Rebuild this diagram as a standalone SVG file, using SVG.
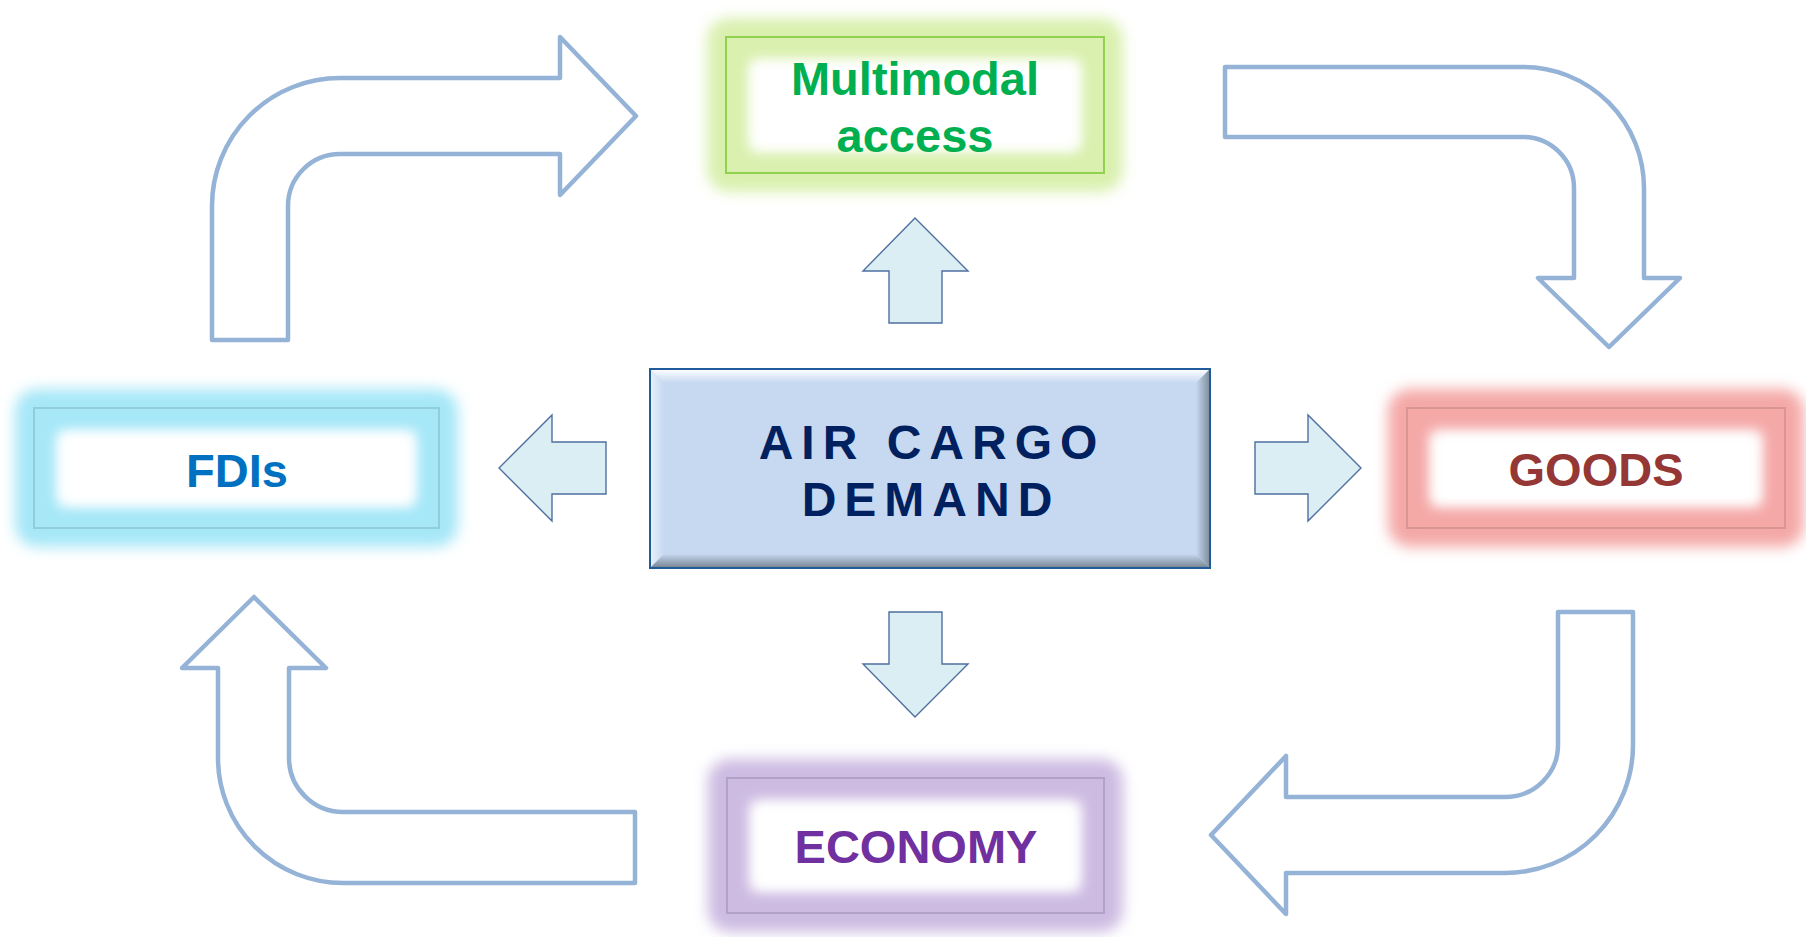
<svg xmlns="http://www.w3.org/2000/svg" width="1806" height="937" viewBox="0 0 1806 937">
  <style>
    .lbl { font-family: "Liberation Sans", Arial, sans-serif; font-weight: bold; font-size: 47px; text-anchor: middle; }
    .big { fill: #FFFFFF; stroke: #95B3D7; stroke-width: 4.5; stroke-linejoin: round; }
    .small { fill: #DBEEF4; stroke: #4F6FA0; stroke-width: 1.4; stroke-linejoin: miter; }
    .glow { fill: none; stroke-width: 44; stroke-linejoin: round; filter: url(#blur); }
    .inner { fill: #FFFFFF; filter: url(#blurIn); }
    .frame { fill: none; stroke-width: 2; }
    .center { font-family: "Liberation Sans", Arial, sans-serif; font-weight: bold; font-size: 48px; letter-spacing: 8px; fill: #002060; text-anchor: middle; }
  </style>
  <defs>
    <filter id="blur" x="-20%" y="-40%" width="140%" height="180%">
      <feGaussianBlur stdDeviation="7"/>
    </filter>
    <filter id="blurIn" x="-20%" y="-40%" width="140%" height="180%">
      <feGaussianBlur stdDeviation="6.5"/>
    </filter>
    <linearGradient id="gTop" x1="0" y1="0" x2="0" y2="1">
      <stop offset="0" stop-color="#FFFFFF"/>
      <stop offset="1" stop-color="#C6D9F1"/>
    </linearGradient>
    <linearGradient id="gLeft" x1="0" y1="0" x2="1" y2="0">
      <stop offset="0" stop-color="#E8F1FB"/>
      <stop offset="1" stop-color="#C6D9F1"/>
    </linearGradient>
    <linearGradient id="gBottom" x1="0" y1="0" x2="0" y2="1">
      <stop offset="0" stop-color="#C6D9F1"/>
      <stop offset="1" stop-color="#75828F"/>
    </linearGradient>
    <linearGradient id="gRight" x1="0" y1="0" x2="1" y2="0">
      <stop offset="0" stop-color="#C6D9F1"/>
      <stop offset="1" stop-color="#7D8B9B"/>
    </linearGradient>
  </defs>
  <rect width="1806" height="937" fill="#FFFFFF"/>

  <g id="connectors">
    <path class="big" d="M 212,340 L 212,206 A 128,128 0 0 1 340,78 L 560,78 L 560,37 L 636,116 L 560,195 L 560,154 L 340,154 A 52,52 0 0 0 288,206 L 288,340 Z"/>
    <path class="big" d="M 1225,67 L 1523,67 A 121,121 0 0 1 1644,188 L 1644,278 L 1680,278 L 1609,347 L 1538,278 L 1574,278 L 1574,188 A 51,51 0 0 0 1523,137 L 1225,137 Z"/>
    <path class="big" d="M 1558,612 L 1633,612 L 1633,745 A 128,128 0 0 1 1505,873 L 1286,873 L 1286,914 L 1211,835 L 1286,756 L 1286,797 L 1505,797 A 53,52 0 0 0 1558,745 Z"/>
    <path class="big" d="M 635,812 L 635,883 L 343,883 A 125,125 0 0 1 218,758 L 218,668 L 182,668 L 254,597 L 326,668 L 289,668 L 289,758 A 54,54 0 0 0 343,812 Z"/>
    <path class="small" d="M 915,218 L 968,271 L 942,271 L 942,323 L 889,323 L 889,271 L 863,271 Z"/>
    <path class="small" d="M 889,612 L 942,612 L 942,664 L 968,664 L 915,717 L 863,664 L 889,664 Z"/>
    <path class="small" d="M 499,468 L 552,415 L 552,442 L 606,442 L 606,494 L 552,494 L 552,521 Z"/>
    <path class="small" d="M 1361,468 L 1308,415 L 1308,442 L 1255,442 L 1255,494 L 1308,494 L 1308,521 Z"/>
  </g>

  <g id="node-multimodal">
    <rect class="glow" x="729" y="40" width="372" height="130" stroke="#D9F0AE"/>
    <rect class="inner" x="752" y="62" width="326" height="88"/>
    <rect class="frame" x="726" y="37" width="378" height="136" stroke="#92D050"/>
    <text class="lbl" x="915" y="95" fill="#00B050">Multimodal</text>
    <text class="lbl" x="915" y="152" fill="#00B050">access</text>
  </g>

  <g id="node-fdis">
    <rect class="glow" x="37" y="411" width="399" height="114" stroke="#A6E7F8"/>
    <rect class="inner" x="60" y="433" width="353" height="72"/>
    <rect class="frame" x="34" y="408" width="405" height="120" stroke="#92CDDC"/>
    <text class="lbl" x="237" y="487" fill="#0070C0">FDIs</text>
  </g>

  <g id="node-goods">
    <rect class="glow" x="1410" y="411" width="372" height="114" stroke="#F4A9A7"/>
    <rect class="inner" x="1433" y="433" width="326" height="72"/>
    <rect class="frame" x="1407" y="408" width="378" height="120" stroke="#D99694"/>
    <text class="lbl" x="1596" y="486" fill="#953735">GOODS</text>
  </g>

  <g id="node-economy">
    <rect class="glow" x="730" y="781" width="371" height="129" stroke="#CDBBE2"/>
    <rect class="inner" x="753" y="803" width="325" height="87"/>
    <rect class="frame" x="727" y="778" width="377" height="135" stroke="#B3A2C7"/>
    <text class="lbl" x="916" y="863" fill="#7030A0">ECONOMY</text>
  </g>

  <g id="node-center">
    <rect x="650" y="369" width="560" height="199" fill="#C6D9F1"/>
    <polygon points="650,369 1210,369 1196,383 664,383" fill="url(#gTop)"/>
    <polygon points="650,369 664,383 664,554 650,568" fill="url(#gLeft)"/>
    <polygon points="650,568 1210,568 1196,554 664,554" fill="url(#gBottom)"/>
    <polygon points="1210,369 1210,568 1196,554 1196,383" fill="url(#gRight)"/>
    <rect x="650" y="369" width="560" height="199" fill="none" stroke="#1F5C99" stroke-width="2"/>
    <text class="center" x="932" y="459">AIR CARGO</text>
    <text class="center" x="931" y="516">DEMAND</text>
  </g>
</svg>
